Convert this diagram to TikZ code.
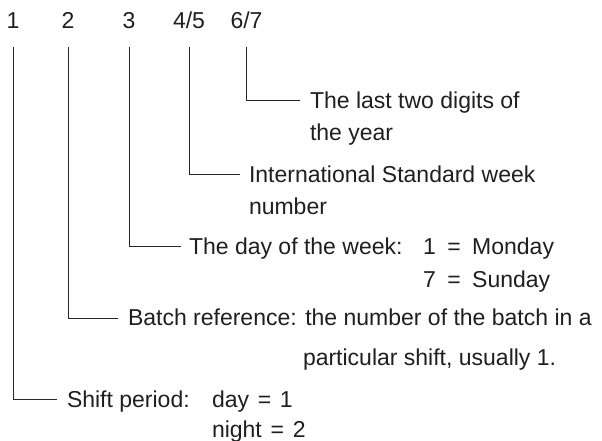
\documentclass[tikz,border=0pt]{standalone}
\usepackage{fontspec}
\setmainfont{Liberation Sans}
\newcommand{\eqA}{\hspace{0.5em}=\hspace{0.5em}}
\newcommand{\eqB}{\hspace{0.38em}=\hspace{0.38em}}
\begin{document}
\begin{tikzpicture}[x=1pt,y=-1pt,
  every node/.style={inner sep=0pt, outer sep=0pt, text=black!88},
  digit/.style={anchor=base, font=\fontsize{23pt}{27pt}\selectfont},
  desc/.style={anchor=base west, font=\fontsize{23pt}{27pt}\selectfont},
  leader/.style={draw=black!85, line width=0.8pt}]
\useasboundingbox (0,0) rectangle (602,441);

% top labels
\node[digit] (d1) at (13,29) {1};
\node[digit] (d2) at (68,29) {2};
\node[digit] (d3) at (129,29) {3};
\node[digit] (d4) at (189,29) {4/5};
\node[digit] (d5) at (246.5,29) {6/7};

% descriptions
\node[desc] (t5) at (310,109) {The last two digits of};
\node[desc] (t5b) at (310,141) {the year};
\node[desc] (t4) at (249,182) {International Standard week};
\node[desc] (t4b) at (249,214) {number};
\node[desc] (t3) at (189,254) {The day of the week:};
\node[desc] (t3c) at (423,254) {1\eqA Monday};
\node[desc] (t3d) at (423,287) {7\eqA Sunday};
\node[desc] (t2) at (128,325) {Batch reference: the number of the batch in a};
\node[desc] (t2b) at (303,365) {particular shift, usually 1.};
\node[desc] (t1) at (67,407) {Shift period:};
\node[desc] (t1c) at (212,407) {day\eqB 1};
\node[desc] (t1d) at (212,437) {night\eqB 2};

% connector end points
\coordinate (e5) at ([xshift=-10pt,yshift=9pt]t5.base west);
\coordinate (e4) at ([xshift=-9pt,yshift=8pt]t4.base west);
\coordinate (e3) at ([xshift=-8pt,yshift=8pt]t3.base west);
\coordinate (e2) at ([xshift=-10pt,yshift=7pt]t2.base west);
\coordinate (e1) at ([xshift=-10pt,yshift=8pt]t1.base west);

% connectors
\draw[leader] ([yshift=-18pt]d1.base) |- (e1);
\draw[leader] ([yshift=-18pt]d2.base) |- (e2);
\draw[leader] ([yshift=-18pt]d3.base) |- (e3);
\draw[leader] ([yshift=-18pt]d4.base) |- (e4);
\draw[leader] ([yshift=-18pt]d5.base) |- (e5);
\end{tikzpicture}
\end{document}
